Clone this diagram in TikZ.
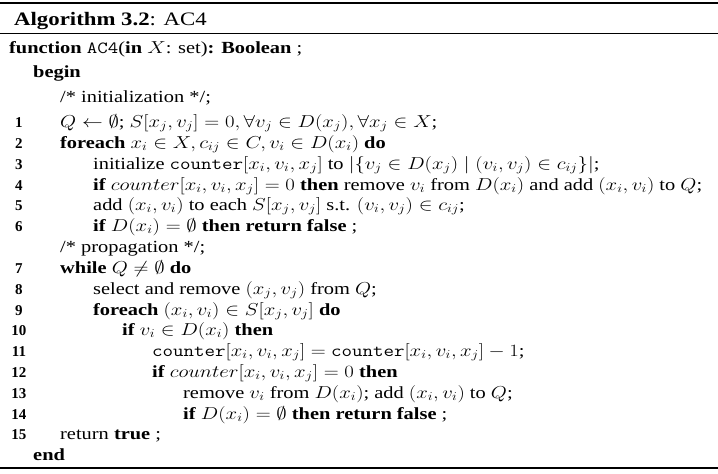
\documentclass[tikz,border=0pt]{standalone}
\usepackage{amsmath,amssymb}
\usepackage{fontspec}
\setmainfont{Liberation Serif}
\newcommand\wide[1]{\scalebox{1.2}[1]{#1}}
\begin{document}
\begin{tikzpicture}[x=1pt,y=-1pt,
 ln/.style={anchor=base west,inner sep=0pt,font=\fontsize{17}{19}\selectfont},
 num/.style={anchor=base,inner sep=0pt,font=\fontsize{15}{16}\selectfont\bfseries}]
\useasboundingbox (0,0) rectangle (718,474);
\draw[line width=1.2pt] (0,3) -- (718,3);
\draw[line width=0.8pt] (0,33) -- (718,33);
\draw[line width=1.2pt] (0,468) -- (718,468);
\node[ln,font=\fontsize{19}{21}\selectfont] (t) at (14,25) {\wide{\textbf{Algorithm 3.2}: AC4}};
\newcommand\Lx[4]{\node[ln] (#1) at (#2,#3) {\wide{#4}};}
\Lx{f}{9}{53}{\textbf{function} \texttt{AC4}(\textbf{in} $X$: set)\textbf{: Boolean} ;}
\Lx{b}{33}{77}{\textbf{begin}}
\Lx{c1}{60}{102}{/* initialization */;}
\Lx{l1}{60}{127}{$Q\leftarrow\emptyset$; $S[x_j,v_j]=0,\forall v_j\in D(x_j),\forall x_j\in X$;}
\Lx{l2}{60}{148}{\textbf{foreach} $x_i\in X, c_{ij}\in C, v_i\in D(x_i)$ \textbf{do}}
\Lx{l3}{93}{169}{initialize \texttt{counter}$[x_i,v_i,x_j]$ to $|\{v_j\in D(x_j)\mid(v_i,v_j)\in c_{ij}\}|$;}
\Lx{l4}{93}{190}{\textbf{if} $counter[x_i,v_i,x_j]=0$ \textbf{then} remove $v_i$ from $D(x_i)$ and add $(x_i,v_i)$ to $Q$;}
\Lx{l5}{93}{210}{add $(x_i,v_i)$ to each $S[x_j,v_j]$ s.t. $(v_i,v_j)\in c_{ij}$;}
\Lx{l6}{93}{231}{\textbf{if} $D(x_i)=\emptyset$ \textbf{then return false} ;}
\Lx{c2}{60}{252}{/* propagation */;}
\Lx{l7}{60}{273}{\textbf{while} $Q\neq\emptyset$ \textbf{do}}
\Lx{l8}{93}{294}{select and remove $(x_j,v_j)$ from $Q$;}
\Lx{l9}{93}{315}{\textbf{foreach} $(x_i,v_i)\in S[x_j,v_j]$ \textbf{do}}
\Lx{l10}{122}{335}{\textbf{if} $v_i\in D(x_i)$ \textbf{then}}
\Lx{l11}{152}{356}{\texttt{counter}$[x_i,v_i,x_j]=$ \texttt{counter}$[x_i,v_i,x_j]-1$;}
\Lx{l12}{152}{377}{\textbf{if} $counter[x_i,v_i,x_j]=0$ \textbf{then}}
\Lx{l13}{183}{398}{remove $v_i$ from $D(x_i)$; add $(x_i,v_i)$ to $Q$;}
\Lx{l14}{183}{419}{\textbf{if} $D(x_i)=\emptyset$ \textbf{then return false} ;}
\Lx{l15}{60}{439}{return \textbf{true} ;}
\Lx{e}{33}{460}{\textbf{end}}
\foreach \n/\y in {1/127,2/148,3/169,4/190,5/210,6/231,7/273,8/294,9/315,10/335,11/356,12/377,13/398,14/419,15/439}
  \node[num] (n\n) at (19,\y) {\n};
\end{tikzpicture}
\end{document}
